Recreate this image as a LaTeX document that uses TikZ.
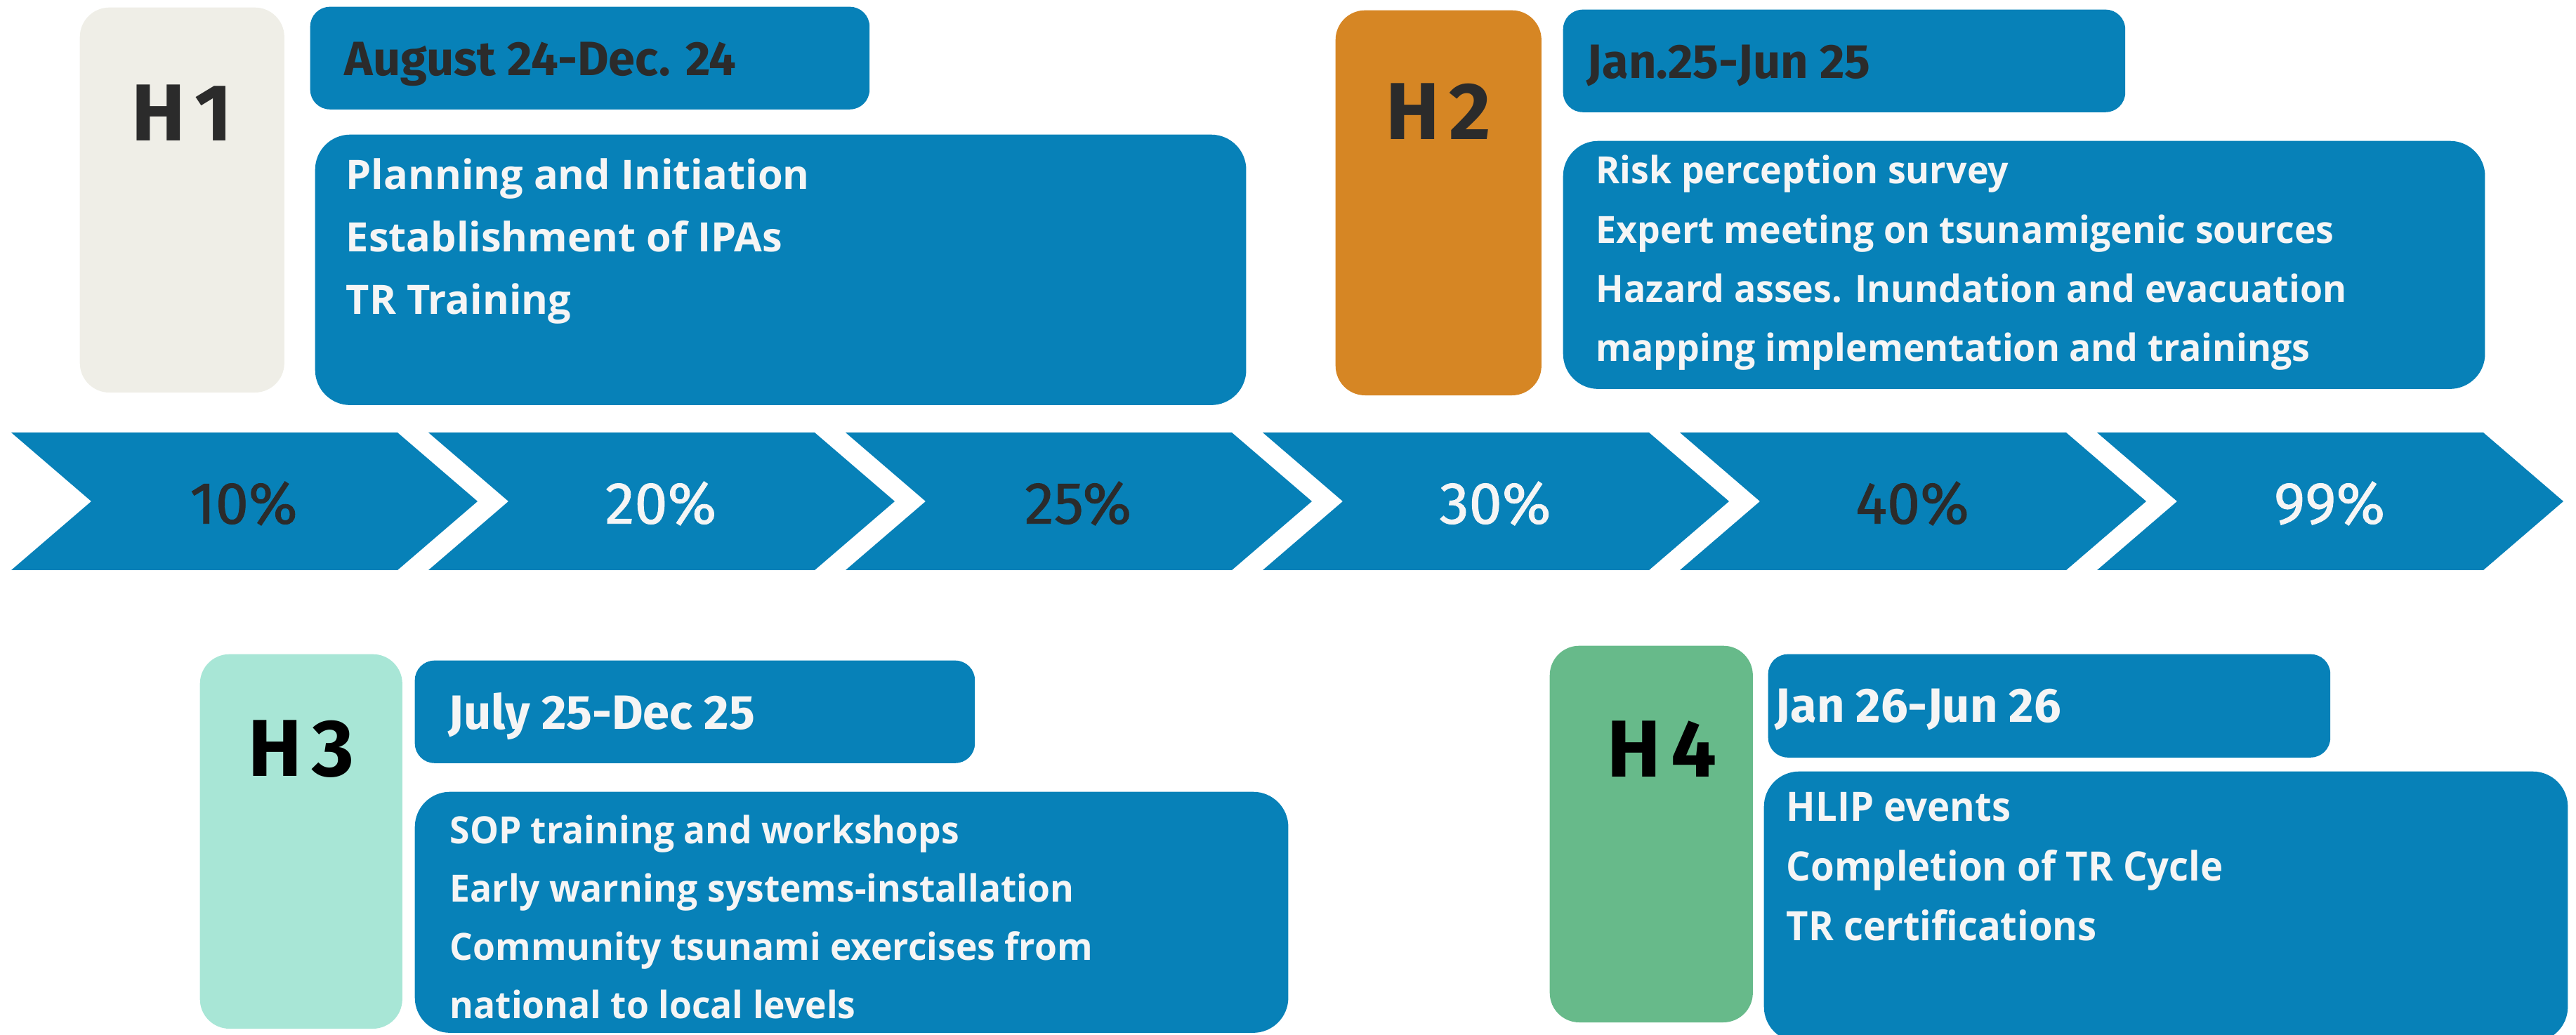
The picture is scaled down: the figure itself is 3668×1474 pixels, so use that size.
\documentclass[tikz,border=0pt]{standalone}
\usepackage{fontspec}
\setmainfont{Open Sans}
\newfontfamily\headfont{Fira Sans}[LetterSpace=12]
\newfontfamily\datefont{Fira Sans}
\newfontfamily\pctfont{Fira Sans}[FakeBold=1]
\usetikzlibrary{calc}

\definecolor{tlblue}{HTML}{0781B8}
\definecolor{hgrey}{HTML}{EFEEE7}
\definecolor{horange}{HTML}{D68624}
\definecolor{hmint}{HTML}{A8E6D6}
\definecolor{hgreen}{HTML}{67BA8A}
\definecolor{inkdark}{HTML}{2B2B2B}
\definecolor{inklight}{HTML}{F5F5F5}

\tikzset{
  halfbox/.style={rounded corners=0.42cm, inner sep=0pt, anchor=north west},
  datebox/.style={halfbox, fill=tlblue, rounded corners=0.28cm},
  listbox/.style={halfbox, fill=tlblue, rounded corners=0.5cm},
  datetext/.style={inner sep=0pt, anchor=base west, font=\datefont\bfseries\fontsize{19.5}{22}\selectfont},
  itemtext/.style={inner sep=0pt, anchor=base west, text=inklight, font=\bfseries\fontsize{16.4}{20}\selectfont},
  hlabel/.style={inner sep=0pt, font=\headfont\bfseries\fontsize{32.7}{36}\selectfont},
  pcttext/.style={inner sep=0pt, font=\pctfont\fontsize{24}{28}\selectfont}
}

\begin{document}
\begin{tikzpicture}[x=0.01cm, y=-0.01cm]
  \useasboundingbox (0,0) rectangle (3668,1474);

  % progress arrows
  \foreach \i/\pct/\ink in {0/10\%/inkdark, 1/20\%/inklight, 2/25\%/inkdark,
                            3/30\%/inklight, 4/40\%/inkdark, 5/99\%/inklight} {
    \fill[tlblue] (16+594*\i,616) -- ++(550,0) -- ++(114,98) -- ++(-114,98)
      -- ++(-550,0) -- ++(114,-98) -- cycle;
    \node[pcttext, text=\ink] (pct\i) at (347+594*\i,717) {\pct};
  }

  % H1
  \node[halfbox, fill=hgrey, minimum width=2.91cm, minimum height=5.48cm] (h1) at (113,10) {};
  \node[hlabel, text=inkdark] (h1t) at ($(h1.north)+(0,151)$) {H1};
  \node[datebox, minimum width=7.96cm, minimum height=1.46cm] (d1) at (441,9) {};
  \node[datetext, text=inkdark] (d1t) at ($(d1.north west)+(49,99)$) {August 24-Dec. 24};
  \node[listbox, minimum width=13.25cm, minimum height=3.85cm] (c1) at (448,191) {};
  \foreach \line [count=\k] in {Planning and Initiation, Establishment of IPAs, TR Training}
    \node[itemtext] (c1l\k) at ($(c1.north west)+(44,79+89*\k-89)$) {\line};

  % H2
  \node[halfbox, fill=horange, minimum width=2.93cm, minimum height=5.48cm] (h2) at (1901,14) {};
  \node[hlabel, text=inkdark] (h2t) at ($(h2.north)+(0,145)$) {H2};
  \node[datebox, minimum width=8.00cm, minimum height=1.46cm] (d2) at (2225,13) {};
  \node[datetext, text=inkdark] (d2t) at ($(d2.north west)+(34,99)$) {Jan.25-Jun 25};
  \node[listbox, minimum width=13.12cm, minimum height=3.53cm] (c2) at (2225,200) {};
  \foreach \line [count=\k] in {Risk perception survey, Expert meeting on tsunamigenic sources,
      Hazard asses. Inundation and evacuation, mapping implementation and trainings}
    \node[itemtext, font=\bfseries\addfontfeature{FakeStretch=0.97}\fontsize{15.2}{18}\selectfont]
      (c2l\k) at ($(c2.north west)+(47,62+84.3*\k-84.3)$) {\line};

  % H3
  \node[halfbox, fill=hmint, minimum width=2.88cm, minimum height=5.33cm] (h3) at (284,931) {};
  \node[hlabel, text=black] (h3t) at ($(h3.north)+(0,136)$) {H3};
  \node[datebox, minimum width=7.97cm, minimum height=1.46cm] (d3) at (590,940) {};
  \node[datetext, text=inklight] (d3t) at ($(d3.north west)+(48,99)$) {July 25-Dec 25};
  \node[listbox, minimum width=12.43cm, minimum height=3.43cm] (c3) at (590,1127) {};
  \foreach \line [count=\k] in {SOP training and workshops, Early warning systems-installation,
      Community tsunami exercises from, national to local levels}
    \node[itemtext, font=\bfseries\addfontfeature{FakeStretch=0.965}\fontsize{15.2}{18}\selectfont]
      (c3l\k) at ($(c3.north west)+(50,75+83*\k-83)$) {\line};

  % H4
  \node[halfbox, fill=hgreen, minimum width=2.89cm, minimum height=5.36cm] (h4) at (2206,919) {};
  \node[hlabel, text=black] (h4t) at ($(h4.north)+(15,148)$) {H4};
  \node[datebox, minimum width=8.00cm, minimum height=1.47cm] (d4) at (2517,931) {};
  \node[datetext, text=inklight] (d4t) at ($(d4.north west)+(10,98)$) {Jan 26-Jun 26};
  \node[listbox, minimum width=11.44cm, minimum height=3.85cm] (c4) at (2511,1098) {};
  \foreach \line [count=\k] in {HLIP events, Completion of TR Cycle, TR certifications}
    \node[itemtext, font=\bfseries\addfontfeature{FakeStretch=0.944}\fontsize{16.4}{20}\selectfont]
      (c4l\k) at ($(c4.north west)+(32,72+85*\k-85)$) {\line};
\end{tikzpicture}
\end{document}
